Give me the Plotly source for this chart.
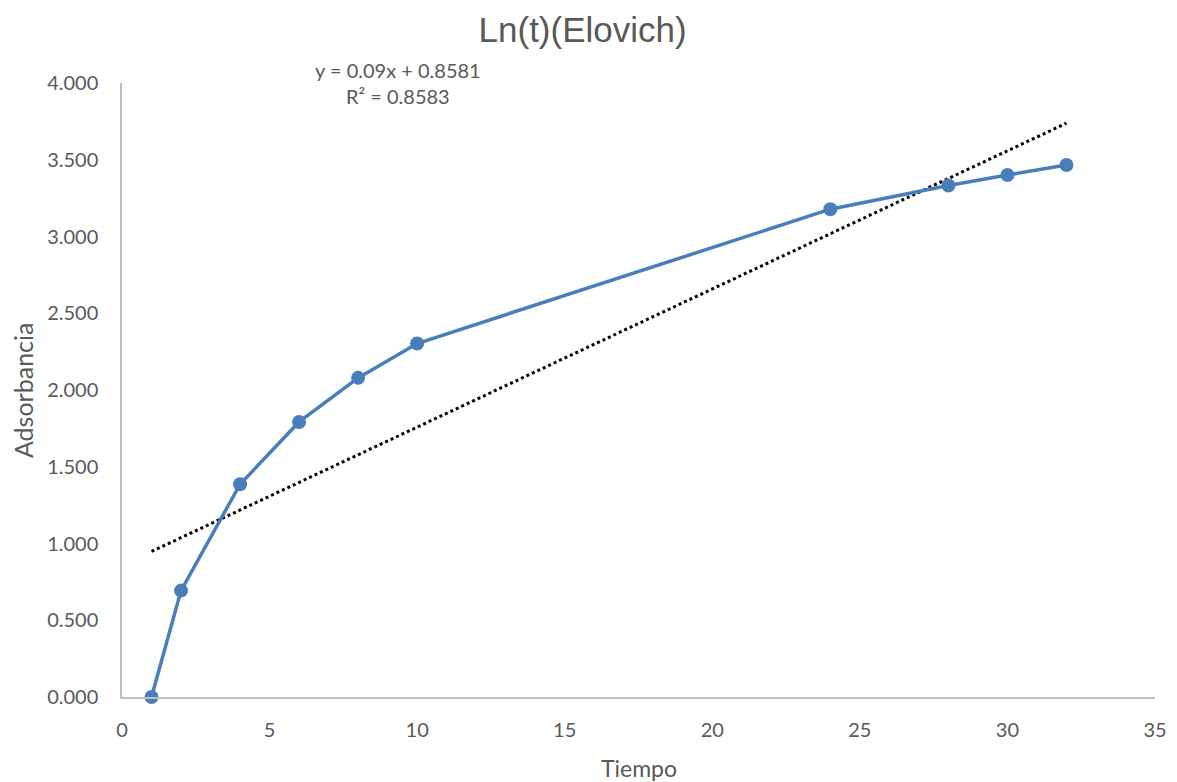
import plotly.graph_objects as go

# Sampling times and ln(t) absorbance values
tiempo = [1, 2, 4, 6, 8, 10, 24, 28, 30, 32]
absorbancia = [0.000, 0.693, 1.386, 1.792, 2.079, 2.303, 3.178, 3.332, 3.401, 3.466]

# Linear trendline coefficients
pendiente = 0.09
intercepto = 0.8581
r2 = 0.8583

trend_x = [min(tiempo), max(tiempo)]
trend_y = [pendiente * x + intercepto for x in trend_x]

gris = "#595959"
fuente = "Lato"

fig = go.Figure()
fig.add_trace(go.Scatter(
    x=trend_x, y=trend_y, mode="lines",
    line=dict(color="black", width=3, dash="dot"),
    showlegend=False,
))
fig.add_trace(go.Scatter(
    x=tiempo, y=absorbancia, mode="lines+markers",
    line=dict(color="#4A7EBB", width=3.5),
    marker=dict(color="#4A7EBB", size=14),
    cliponaxis=False, showlegend=False,
))

# Trendline equation label
fig.add_annotation(
    x=0.267, y=1.0, xref="paper", yref="paper",
    xanchor="center", yanchor="middle",
    text=f"y = {pendiente}x + {intercepto}<br>R² = {r2}",
    showarrow=False, align="center",
    font=dict(family=fuente, size=20, color=gris),
)

# Axis titles
fig.add_annotation(
    x=0.5, y=-0.1156, xref="paper", yref="paper",
    xanchor="center", yanchor="middle", text="Tiempo", showarrow=False,
    font=dict(family=fuente, size=23, color=gris),
)
fig.add_annotation(
    x=-0.0958, y=0.5, xref="paper", yref="paper",
    xanchor="center", yanchor="middle", text="Adsorbancia", showarrow=False,
    textangle=-90, font=dict(family=fuente, size=25, color=gris),
)

fig.update_layout(
    width=1177, height=782,
    margin=dict(l=122, r=22, t=83, b=85),
    paper_bgcolor="white", plot_bgcolor="white",
    title=dict(text="Ln(t)(Elovich)", x=0.495, xanchor="center", y=0.962, yanchor="middle",
               font=dict(family="Liberation Sans Narrow, Arial Narrow, Liberation Sans, sans-serif",
                         size=35, color=gris)),
    xaxis=dict(
        range=[0, 35], dtick=5, tick0=0,
        showgrid=False, zeroline=False, automargin=False,
        showline=True, linecolor="#BFBFBF", linewidth=1.5,
        ticks="", tickfont=dict(family=fuente, size=20, color=gris),
        ticklabelstandoff=14,
    ),
    yaxis=dict(
        range=[0, 4], dtick=0.5, tick0=0, tickformat=".3f",
        showgrid=False, zeroline=False, automargin=False,
        showline=True, linecolor="#BFBFBF", linewidth=1.5,
        ticks="", tickfont=dict(family=fuente, size=20, color=gris),
        ticklabelstandoff=18,
    ),
    font=dict(family=fuente, color=gris),
)

fig.write_html("out.html")
